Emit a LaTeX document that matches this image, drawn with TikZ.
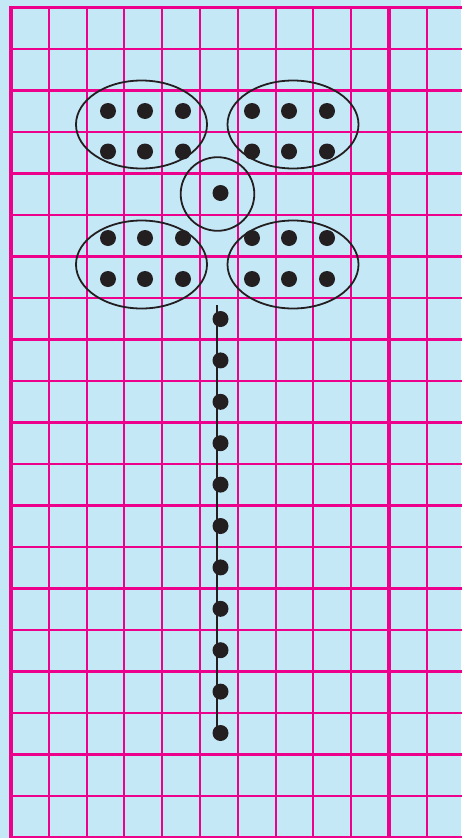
\documentclass[tikz,border=0pt]{standalone}
\usetikzlibrary{shapes.geometric}
\definecolor{paper}{HTML}{C5E8F7}
\definecolor{grid}{HTML}{EC008C}
\definecolor{ink}{HTML}{231F20}
\tikzset{
  thin grid/.style={draw=grid, line width=2.1pt},
  thick grid/.style={draw=grid, line width=3.6pt},
  dot/.style={circle, fill=ink, inner sep=0pt, minimum size=16pt},
  ring/.style={draw=ink, line width=1.8pt},
}
\begin{document}
\begin{tikzpicture}[x=1pt,y=-1pt]
\fill[paper] (0,0) rectangle (461,838);
\useasboundingbox (0,0) rectangle (461,838);
% grid
\foreach \i in {1,...,11} {\draw[thin grid] ({11+37.8*\i},7.5) -- ({11+37.8*\i},840);}
\foreach \j in {1,...,20} {\draw[thin grid] (11,{7.5+41.5*\j}) -- (465,{7.5+41.5*\j});}
\draw[thick grid] (389,7.5) -- (389,840);
\draw[thick grid] (11,422.5) -- (465,422.5);
\draw[draw=grid, line width=3.2pt] (9,7.5) -- (465,7.5);
\draw[draw=grid, line width=4.2pt] (11,6) -- (11,840);
% petals
\draw[ring] (141.5,124.5) ellipse [x radius=65.5, y radius=44];
\draw[ring] (293,124.5) ellipse [x radius=65.5, y radius=44];
\draw[ring] (141.5,264.5) ellipse [x radius=65.5, y radius=44];
\draw[ring] (293,264.5) ellipse [x radius=65.5, y radius=44];
\draw[ring] (217.5,194) circle [radius=36.8];
% petal dots
\foreach \x [count=\k] in {108,145,183} {
  \node[dot] (tla\k) at (\x,111) {};
  \node[dot] (tlb\k) at (\x,151.5) {};
  \node[dot] (bla\k) at (\x,238) {};
  \node[dot] (blb\k) at (\x,279) {};
}
\foreach \x [count=\k] in {252,289,327} {
  \node[dot] (tra\k) at (\x,111) {};
  \node[dot] (trb\k) at (\x,151.5) {};
  \node[dot] (bra\k) at (\x,238) {};
  \node[dot] (brb\k) at (\x,279) {};
}
\node[dot] (centre) at (220.5,193) {};
% stem
\coordinate (stemtop) at (217.3,305);
\foreach \n in {1,...,11} {\node[dot] (s\n) at (220.5,{319+41.4*(\n-1)}) {};}
\draw[ring] (stemtop) -- (217.3,733);
\end{tikzpicture}
\end{document}
